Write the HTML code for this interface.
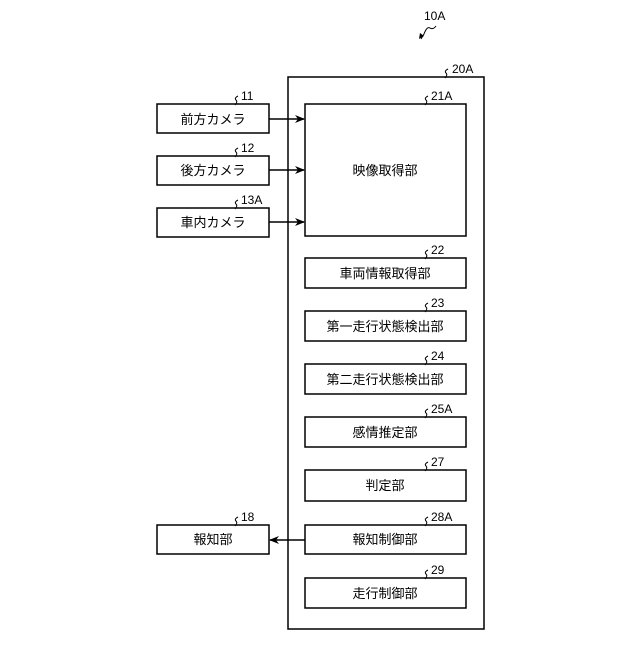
<!DOCTYPE html>
<html><head><meta charset="utf-8"><style>
body{margin:0;background:#fff}
svg text{font-family:"Liberation Sans","Noto Sans CJK JP",sans-serif;fill:#000}
</style></head><body>
<svg width="640" height="640" viewBox="0 0 640 640" xmlns="http://www.w3.org/2000/svg">
<defs><marker id="a" markerWidth="10" markerHeight="8" refX="9" refY="4" orient="auto" markerUnits="userSpaceOnUse"><path d="M0,0 L10,4 L0,8 L3,4 Z" fill="#000"/></marker></defs>
<g fill="none" stroke="#000" stroke-width="1.5">
<rect x="288" y="77" width="196" height="552"/>
<rect x="305" y="104" width="161" height="132"/>
<rect x="157" y="104" width="112" height="29"/>
<rect x="157" y="156" width="112" height="29"/>
<rect x="157" y="208" width="112" height="29"/>
<rect x="157" y="525" width="112" height="29"/>
<rect x="305" y="258" width="161" height="30"/>
<rect x="305" y="311" width="161" height="30"/>
<rect x="305" y="364" width="161" height="30"/>
<rect x="305" y="417" width="161" height="30"/>
<rect x="305" y="470" width="161" height="31"/>
<rect x="305" y="525" width="161" height="29"/>
<rect x="305" y="578" width="161" height="30"/>
<line x1="269" y1="119" x2="304" y2="119" marker-end="url(#a)"/>
<line x1="269" y1="170" x2="304" y2="170" marker-end="url(#a)"/>
<line x1="269" y1="222" x2="304" y2="222" marker-end="url(#a)"/>
<line x1="305" y1="540" x2="270" y2="540" marker-end="url(#a)"/>
<g stroke-width="1">
<path d="M238,96 q-4,2 -2,4 q2,2 -1,5"/><path d="M238,148 q-4,2 -2,4 q2,2 -1,5"/><path d="M238,200 q-4,2 -2,4 q2,2 -1,5"/>
<path d="M238,517 q-4,2 -2,4 q2,2 -1,5"/>
<path d="M448,69 q-4,2 -2,4 q2,2 -1,5"/><path d="M428,96 q-4,2 -2,4 q2,2 -1,5"/>
<path d="M428,250 q-4,2 -2,4 q2,2 -1,5"/><path d="M428,303 q-4,2 -2,4 q2,2 -1,5"/><path d="M428,356 q-4,2 -2,4 q2,2 -1,5"/><path d="M428,409 q-4,2 -2,4 q2,2 -1,5"/><path d="M428,462 q-4,2 -2,4 q2,2 -1,5"/><path d="M428,517 q-4,2 -2,4 q2,2 -1,5"/><path d="M428,570 q-4,2 -2,4 q2,2 -1,5"/>
<path d="M436,26 q-3,4 -6,2 q-3,-2 -6,6 l-3,5"/>
</g>
</g>
<path d="M419,39 l1,-6 l4,3 z" fill="#000"/>
<g font-size="12">
<text x="424" y="20">10A</text>
<text x="452" y="73">20A</text>
<text x="431" y="100">21A</text>
<text x="241" y="100">11</text><text x="241" y="152">12</text><text x="241" y="204">13A</text><text x="241" y="521">18</text>
<text x="431" y="254">22</text><text x="431" y="307">23</text><text x="431" y="360">24</text><text x="431" y="413">25A</text><text x="431" y="466">27</text><text x="431" y="521">28A</text><text x="431" y="574">29</text>
</g>
<g font-size="13" text-anchor="middle">
<text x="213" y="124">前方カメラ</text>
<text x="213" y="175">後方カメラ</text>
<text x="213" y="227">車内カメラ</text>
<text x="213" y="544">報知部</text>
<text x="385" y="175">映像取得部</text>
<text x="385" y="278">車両情報取得部</text>
<text x="385" y="331">第一走行状態検出部</text>
<text x="385" y="384">第二走行状態検出部</text>
<text x="385" y="437">感情推定部</text>
<text x="385" y="490">判定部</text>
<text x="385" y="544">報知制御部</text>
<text x="385" y="598">走行制御部</text>
</g>
</svg>
</body></html>
